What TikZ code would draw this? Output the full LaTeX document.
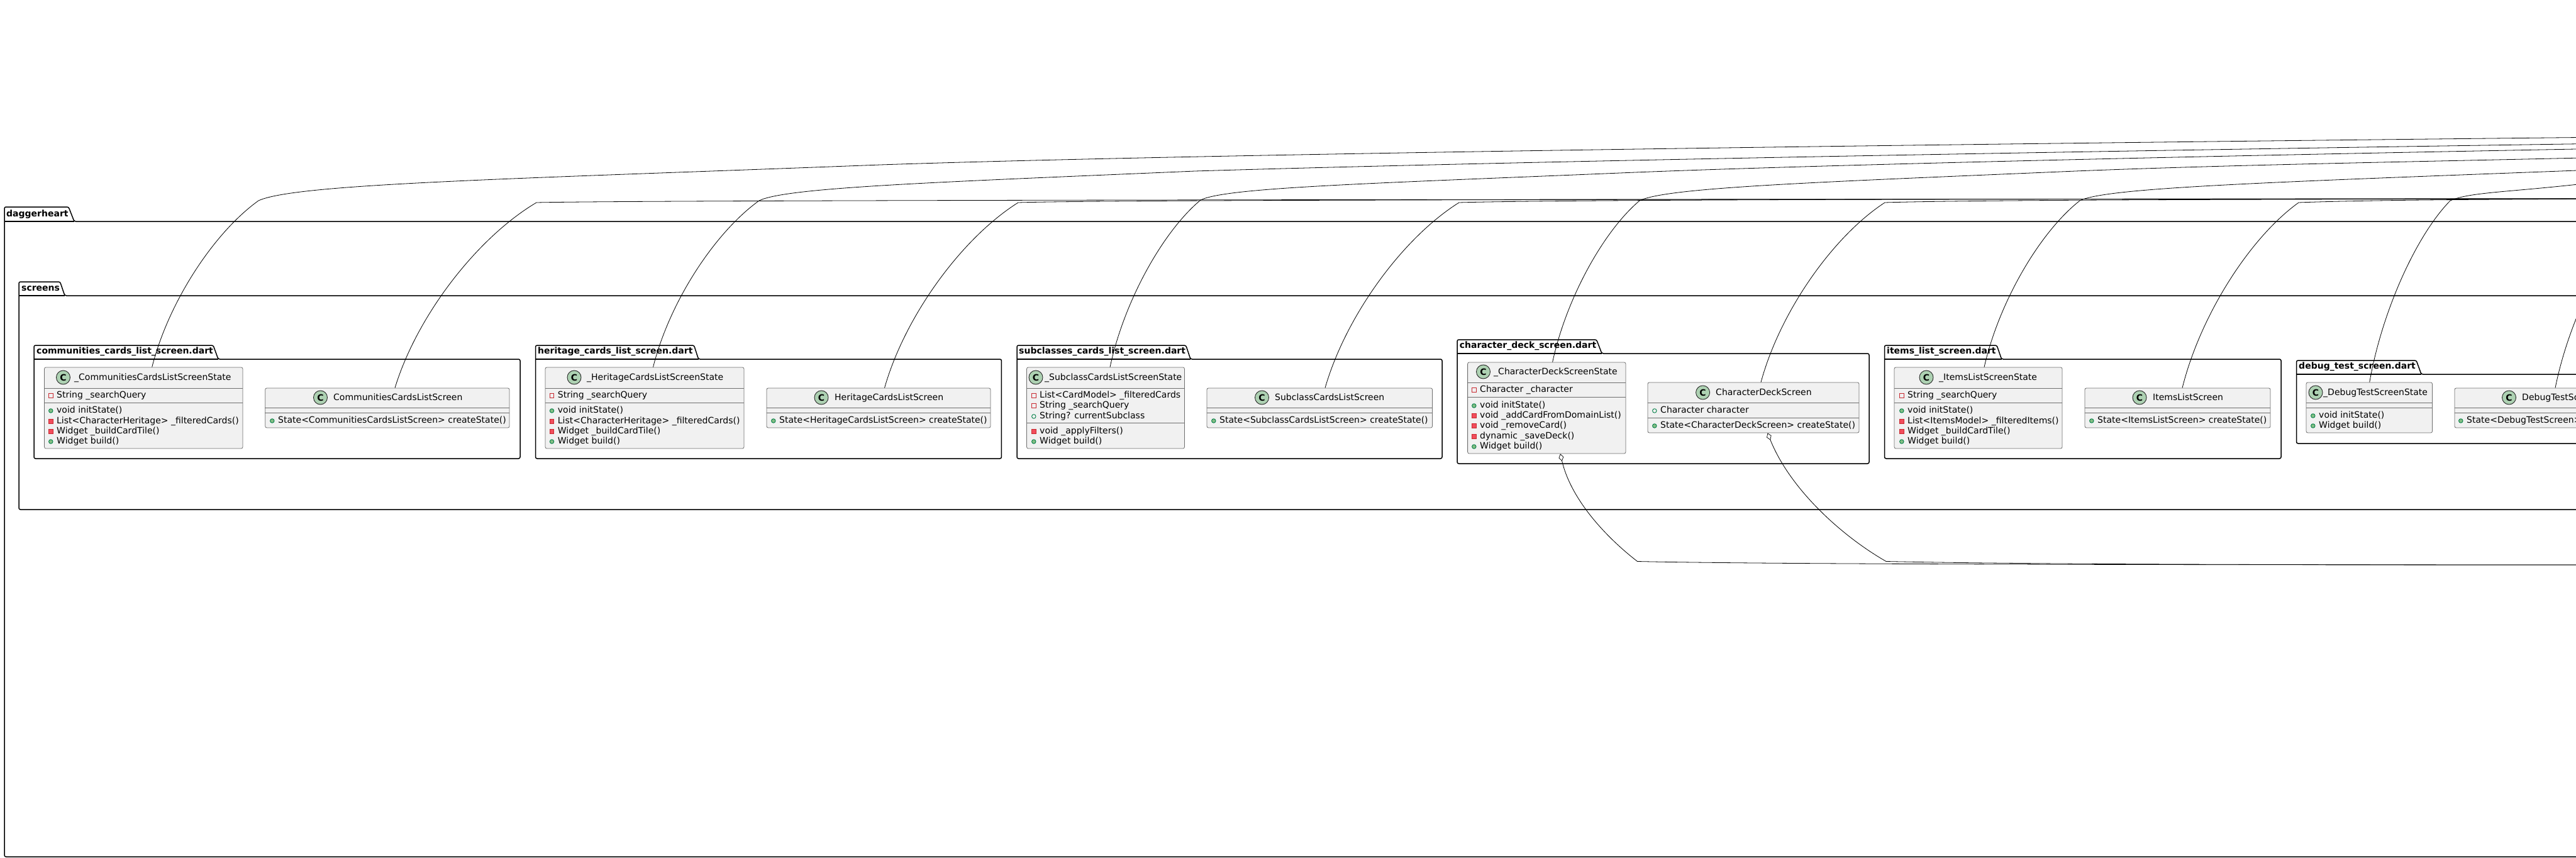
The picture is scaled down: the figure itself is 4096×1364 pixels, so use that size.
\documentclass[tikz,border=0pt]{standalone}
\usepackage{fontspec}
\setmainfont{DejaVu Sans}
\usetikzlibrary{arrows,arrows.meta}

\definecolor{boxfill}{HTML}{F1F1F1}
\definecolor{boxline}{HTML}{6E6E6E}
\definecolor{spotfill}{HTML}{ADD1B2}
\definecolor{privline}{HTML}{C82930}
\definecolor{privfill}{HTML}{F24D5C}
\definecolor{publine}{HTML}{038048}
\definecolor{pubfill}{HTML}{84BE84}

\newcommand{\pkgframe}[7]{%
  \draw[pkgline] (#1,#7) -- (#1,#2) -- (#3,#2) -- (#4,#5) -- (#6,#5) -- (#6,#7) -- cycle;
  \draw[pkgline] (#1,#5) -- (#4,#5);}
\newcommand{\divider}[2]{\draw[divline] (#1.west |- 0,#2) -- (#1.east |- 0,#2);}

\begin{document}
\begin{tikzpicture}[
  x=1pt,y=-1pt,
  pkgline/.style={line width=1.5pt,rounded corners=2.5pt},
  divline/.style={line width=.8pt,draw=boxline},
  pkglabel/.style={anchor=west,inner sep=0pt,font=\fontsize{14}{16}\selectfont\bfseries},
  classbox/.style={draw=boxline,fill=boxfill,line width=.8pt,rounded corners=2.5pt,inner sep=0pt},
  spot/.style={circle,draw=black!85,fill=spotfill,line width=.9pt,minimum size=22pt,inner sep=0pt,font=\fontsize{14}{14}\selectfont\bfseries},
  memtext/.style={anchor=west,inner sep=0pt,text height=11pt,text depth=3pt,font=\fontsize{14}{16}\selectfont},
  icon/.style={minimum size=6.5pt,inner sep=0pt,text height=0pt,text depth=0pt,label distance=5.5pt,yshift=-1pt,line width=.9pt},
  privf/.style={label={[icon,rectangle,draw=privline]left:{}}},
  privm/.style={label={[icon,rectangle,draw=privline,fill=privfill]left:{}}},
  pubf/.style={label={[icon,circle,draw=publine]left:{}}},
  pubm/.style={label={[icon,circle,draw=publine,fill=pubfill]left:{}}},
  link/.style={line width=.8pt},
  hold/.style={line width=.8pt,{Diamond[open,length=12pt,width=8pt,line width=.7pt]}-}
]
  \clip (0,0) rectangle (4096,1364);

  % outer packages
  \pkgframe{7}{329}{109}{118}{352}{4300}{1362}
  \node[pkglabel] (pkgroot) at (10,341) {daggerheart};
  \pkgframe{30}{448}{95.5}{103}{470}{4250}{810}
  \node[pkglabel] (pkgscreens) at (34,459) {screens};

  % file packages
  \pkgframe{54}{549}{339}{347}{571}{827}{729}
  \node[pkglabel] (pkgcomm) at (58,559) {communities\_cards\_list\_screen.dart};
  \pkgframe{851.5}{549}{1103.5}{1110.6}{571}{1592.4}{729}
  \node[pkglabel] (pkgher) at (855,559) {heritage\_cards\_list\_screen.dart};
  \pkgframe{1617}{549}{1885.6}{1893}{571}{2293}{729}
  \node[pkglabel] (pkgsub) at (1620,559) {subclasses\_cards\_list\_screen.dart};
  \pkgframe{2317}{540}{2538.5}{2547}{562}{2972}{737}
  \node[pkglabel] (pkgdeck) at (2320.6,550) {character\_deck\_screen.dart};
  \pkgframe{2996.5}{549}{3175}{3182.6}{571}{3627}{729}
  \node[pkglabel] (pkgitems) at (3000,559) {items\_list\_screen.dart};
  \pkgframe{3651.5}{573}{3842}{3850}{595}{4250}{705}
  \node[pkglabel] (pkgdebug) at (3655,583) {debug\_test\_screen.dart};

  % communities classes
  \node[classbox,minimum width=315.5pt,minimum height=129pt] (cstate) at (228.25,648.5) {};
  \divider{cstate}{617}
  \divider{cstate}{640}
  \node[spot] (cstatec) at (100.5,600) {C};
  \node[memtext] (cstaten) at (118,600) {\_CommunitiesCardsListScreenState};
  \node[memtext,privf] (cstate1) at (90,628) {String \_searchQuery};
  \node[memtext,pubm] (cstate2) at (90,652) {void initState()};
  \node[memtext,privm] (cstate3) at (90,669) {List<CharacterHeritage> \_filteredCards()};
  \node[memtext,privm] (cstate4) at (90,685) {Widget \_buildCardTile()};
  \node[memtext,pubm] (cstate5) at (90,701) {Widget build()};

  \node[classbox,minimum width=388.3pt,minimum height=63pt] (cscr) at (615.85,648.5) {};
  \divider{cscr}{648}
  \divider{cscr}{656}
  \node[spot] (cscrc) at (509.5,632) {C};
  \node[memtext] (cscrn) at (530,632) {CommunitiesCardsListScreen};
  \node[memtext,pubm] (cscr1) at (442,668) {State<CommunitiesCardsListScreen> createState()};

  % heritage classes
  \node[classbox,minimum width=316pt,minimum height=129pt] (hstate) at (1025,648.5) {};
  \divider{hstate}{617}
  \divider{hstate}{640}
  \node[spot] (hstatec) at (913,600) {C};
  \node[memtext] (hstaten) at (933,600) {\_HeritageCardsListScreenState};
  \node[memtext,privf] (hstate1) at (886.7,628) {String \_searchQuery};
  \node[memtext,pubm] (hstate2) at (886.7,652) {void initState()};
  \node[memtext,privm] (hstate3) at (886.7,669) {List<CharacterHeritage> \_filteredCards()};
  \node[memtext,privm] (hstate4) at (886.7,685) {Widget \_buildCardTile()};
  \node[memtext,pubm] (hstate5) at (886.7,701) {Widget build()};

  \node[classbox,minimum width=356pt,minimum height=63pt] (hscr) at (1397,648.5) {};
  \divider{hscr}{648}
  \divider{hscr}{656}
  \node[spot] (hscrc) at (1306,632) {C};
  \node[memtext] (hscrn) at (1327,632) {HeritageCardsListScreen};
  \node[memtext,pubm] (hscr1) at (1239,668) {State<HeritageCardsListScreen> createState()};

  % subclass classes
  \node[classbox,minimum width=251pt,minimum height=129pt] (sstate) at (1758,648.5) {};
  \divider{sstate}{617}
  \divider{sstate}{672}
  \node[spot] (sstatec) at (1647,600) {C};
  \node[memtext] (sstaten) at (1661,600) {\_SubclassCardsListScreenState};
  \node[memtext,privf] (sstate1) at (1653,628) {List<CardModel> \_filteredCards};
  \node[memtext,privf] (sstate2) at (1653,644) {String \_searchQuery};
  \node[memtext,pubf] (sstate3) at (1653,661) {String? currentSubclass};
  \node[memtext,privm] (sstate4) at (1653,685) {void \_applyFilters()};
  \node[memtext,pubm] (sstate5) at (1653,701) {Widget build()};

  \node[classbox,minimum width=358.5pt,minimum height=63pt] (sscr) at (2098.25,648.5) {};
  \divider{sscr}{648}
  \divider{sscr}{656}
  \node[spot] (sscrc) at (2006.5,632) {C};
  \node[memtext] (sscrn) at (2027,632) {SubclassCardsListScreen};
  \node[memtext,pubm] (sscr1) at (1939,668) {State<SubclassCardsListScreen> createState()};

  % deck classes
  \node[classbox,minimum width=251.4pt,minimum height=145pt] (dstate) at (2459.3,648.5) {};
  \divider{dstate}{608}
  \divider{dstate}{631}
  \node[spot] (dstatec) at (2358.5,591) {C};
  \node[memtext] (dstaten) at (2375,591) {\_CharacterDeckScreenState};
  \node[memtext,privf] (dstate1) at (2353,619) {Character \_character};
  \node[memtext,pubm] (dstate2) at (2353,644) {void initState()};
  \node[memtext,privm] (dstate3) at (2353,660) {void \_addCardFromDomainList()};
  \node[memtext,privm] (dstate4) at (2353,676) {void \_removeCard()};
  \node[memtext,privm] (dstate5) at (2353,693) {dynamic \_saveDeck()};
  \node[memtext,pubm] (dstate6) at (2353,709) {Widget build()};

  \node[classbox,minimum width=336pt,minimum height=80pt] (dscr) at (2788,648) {};
  \divider{dscr}{640}
  \divider{dscr}{664}
  \node[spot] (dscrc) at (2707.6,624) {C};
  \node[memtext] (dscrn) at (2728,624) {CharacterDeckScreen};
  \node[memtext,pubf] (dscr1) at (2640,652) {Character character};
  \node[memtext,pubm] (dscr2) at (2640,676) {State<CharacterDeckScreen> createState()};

  % items classes
  \node[classbox,minimum width=267pt,minimum height=129pt] (istate) at (3145.5,648.5) {};
  \divider{istate}{617}
  \divider{istate}{640}
  \node[spot] (istatec) at (3063,600) {C};
  \node[memtext] (istaten) at (3083,600) {\_ItemsListScreenState};
  \node[memtext,privf] (istate1) at (3033,628) {String \_searchQuery};
  \node[memtext,pubm] (istate2) at (3033,652) {void initState()};
  \node[memtext,privm] (istate3) at (3033,669) {List<ItemsModel> \_filteredItems()};
  \node[memtext,privm] (istate4) at (3033,685) {Widget \_buildCardTile()};
  \node[memtext,pubm] (istate5) at (3033,701) {Widget build()};

  \node[classbox,minimum width=295pt,minimum height=63pt] (iscr) at (3462.5,648.5) {};
  \divider{iscr}{648}
  \divider{iscr}{656}
  \node[spot] (iscrc) at (3402,632) {C};
  \node[memtext] (iscrn) at (3423,632) {ItemsListScreen};
  \node[memtext,pubm] (iscr1) at (3335,668) {State<ItemsListScreen> createState()};

  % debug classes
  \node[classbox,minimum width=200.5pt,minimum height=80pt] (tstate) at (3767.25,648) {};
  \divider{tstate}{640}
  \divider{tstate}{648}
  \node[spot] (tstatec) at (3682,624) {C};
  \node[memtext] (tstaten) at (3694,624) {\_DebugTestScreenState};
  \node[memtext,pubm] (tstate1) at (3687,660) {void initState()};
  \node[memtext,pubm] (tstate2) at (3687,676) {Widget build()};

  \node[classbox,minimum width=310pt,minimum height=63pt] (tscr) at (4058,648.5) {};
  \divider{tscr}{648}
  \divider{tscr}{656}
  \node[spot] (tscrc) at (3989.5,632) {C};
  \node[memtext] (tscrn) at (4010,632) {DebugTestScreen};
  \node[memtext,pubm] (tscr1) at (3922,668) {State<DebugTestScreen> createState()};

  % free ends off the page
  \coordinate (endc) at (4150,218);
  \coordinate (endh) at (4150,228);
  \coordinate (ends) at (4150,236);
  \coordinate (endd) at (4150,250);
  \coordinate (endi) at (4150,269);
  \coordinate (endt) at (4150,287);
  \coordinate (endflat) at (4150,316);
  \coordinate (endlow) at (4150,898);
  \coordinate (endtscr) at (4213,322);

  % state edges
  \draw[link] ([xshift=13.45pt]cstate.north) .. controls (268,480) and (340,370) .. (411,319)
    .. controls (470,292) and (800,285) .. (1400,262) .. controls (1900,245) and (3000,230) .. (endc);
  \draw[link] ([xshift=13.5pt]hstate.north) .. controls (1064.5,480) and (1136.2,370) .. (1207,319)
    .. controls (1250,298) and (1480,290) .. (1900,272) .. controls (2300,260) and (3000,245) .. (endh);
  \draw[link] ([xshift=7pt]sstate.north) .. controls (1787,480) and (1848.5,368.5) .. (1909,318)
    .. controls (1950,298) and (2170,292) .. (2600,274) .. controls (2900,262) and (3500,248) .. (ends);
  \draw[link] ([xshift=9.3pt]dstate.north) .. controls (2490,476) and (2549,368) .. (2607,319)
    .. controls (2650,298) and (2880,290) .. (3300,272) .. controls (3550,262) and (3800,258) .. (endd);
  \draw[link] ([xshift=9.5pt]istate.north) .. controls (3178.4,480.6) and (3243,369.4) .. (3307,319)
    .. controls (3350,298) and (3600,290) .. (endi);
  \draw[link] ([xshift=.45pt]tstate.north) .. controls (3787.4,495) and (3842,374) .. (3896,319)
    .. controls (3930,304) and (4000,306) .. (endt);

  % screen edges
  \draw[link] ([xshift=12.15pt]cscr.north) .. controls (663,502) and (758.5,378) .. (853,322)
    .. controls (1000,319) and (1800,317) .. (endflat);
  \draw[link] ([xshift=9.5pt]hscr.north) .. controls (1439,502) and (1529.8,378) .. (1619,322)
    .. controls (1760,318) and (2400,317) .. (endflat);
  \draw[link] ([xshift=8.75pt]sscr.north) .. controls (2140,502) and (2230.5,378) .. (2320,322)
    .. controls (2460,318) and (3000,316) .. (endflat);
  \draw[link] ([xshift=12pt]dscr.north) .. controls (2830,496.5) and (2914,376) .. (2997,322)
    .. controls (3130,318) and (3500,317) .. (endflat);
  \draw[link] ([xshift=7.5pt]iscr.north) .. controls (3498.5,502) and (3577,378) .. (3655,322)
    .. controls (3760,318) and (3950,317) .. (endflat);
  \draw[link] ([xshift=5pt]tscr.north) .. controls (4086,502) and (4150,378) .. (endtscr);

  % character edges
  \draw[hold] ([xshift=21.7pt]dstate.south) .. controls (2498,795) and (2555,855) .. (2603.5,892.5)
    .. controls (2800,897) and (3400,898) .. (endlow);
  \draw[hold] ([xshift=22.6pt]dscr.south) .. controls (2845,775) and (2925,850) .. (2999,892.5)
    .. controls (3200,897) and (3600,898) .. (endlow);

\end{tikzpicture}
\end{document}
